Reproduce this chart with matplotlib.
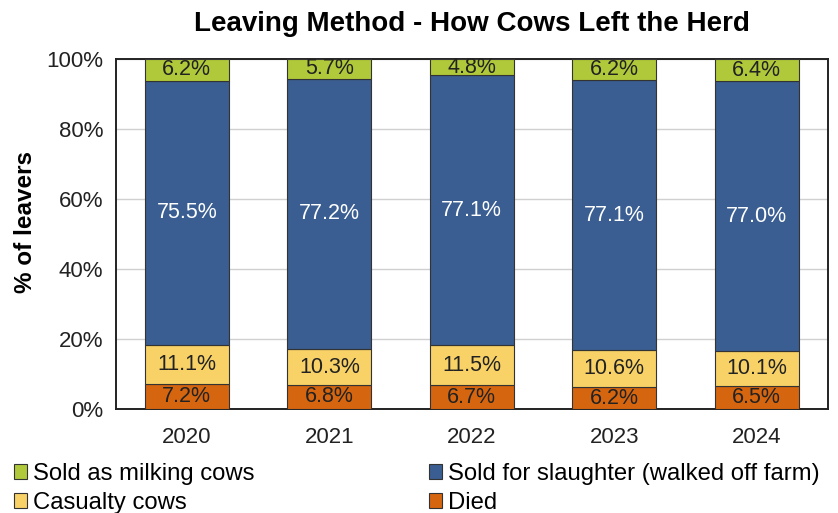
import numpy as np
import matplotlib
matplotlib.use("Agg")
import matplotlib.pyplot as plt
from matplotlib.ticker import PercentFormatter

plt.rcParams['font.family'] = ['Liberation Sans', 'DejaVu Sans']

# share of leavers by method, per year (%)
years = ['2020', '2021', '2022', '2023', '2024']
died = [7.2, 6.8, 6.7, 6.2, 6.5]
casualty = [11.1, 10.3, 11.5, 10.6, 10.1]
slaughter = [75.5, 77.2, 77.1, 77.1, 77.0]
milking = [6.2, 5.7, 4.8, 6.2, 6.4]

series = [
    ('Died', died, '#D6650F', '#222222'),
    ('Casualty cows', casualty, '#F8D266', '#222222'),
    ('Sold for slaughter (walked off farm)', slaughter, '#3A5E91', 'white'),
    ('Sold as milking cows', milking, '#B0C93A', '#222222'),
]

fig = plt.figure(figsize=(8.38, 5.13), dpi=100)
ax = fig.add_axes([0.138, 0.203, 0.850, 0.682])

x = np.arange(len(years))
bottom = np.zeros(len(years))
bars = {}
for name, vals, col, txtcol in series:
    vals = np.array(vals)
    b = ax.bar(x, vals, bottom=bottom, width=0.59, color=col,
               edgecolor='#333333', linewidth=0.8, label=name, zorder=3)
    bars[name] = b
    for xi, v, b0 in zip(x, vals, bottom):
        ax.text(xi, b0 + v / 2, f'{v:.1f}%', ha='center', va='center',
                fontsize=15.5, color=txtcol, zorder=4)
    bottom += vals

ax.set_xlim(-0.5, len(years) - 0.5)
ax.set_ylim(0, 100)
ax.set_yticks(range(0, 101, 20))
ax.yaxis.set_major_formatter(PercentFormatter(decimals=0))
ax.set_xticks(x)
ax.set_xticklabels(years)
ax.tick_params(axis='both', length=0, labelsize=16, colors='#222222')
ax.tick_params(axis='y', pad=9)
ax.tick_params(axis='x', pad=13)
ax.grid(axis='y', color='#D0D0D0', linewidth=1, zorder=0)
for s in ax.spines.values():
    s.set_color('#222222')
    s.set_linewidth(1.4)

ax.set_ylabel('% of leavers', fontsize=17.5, fontweight='bold')
ax.yaxis.set_label_coords(-0.110, 0.534)
ax.set_title('Leaving Method - How Cows Left the Herd', fontsize=20,
             fontweight='bold', pad=20)

# legend: column-major fill, so milking/casualty left, slaughter/died right
order = ['Sold as milking cows', 'Casualty cows',
         'Sold for slaughter (walked off farm)', 'Died']
handles = [bars[n] for n in order]
leg = fig.legend(handles, order, ncol=2, loc='lower left',
                 bbox_to_anchor=(0.0, -0.03), frameon=False, fontsize=17.2,
                 handlelength=0.55, handleheight=0.55, handletextpad=0.25,
                 columnspacing=7.3, labelspacing=0.3, borderaxespad=0.2)

fig.savefig('out.png', dpi=100)
